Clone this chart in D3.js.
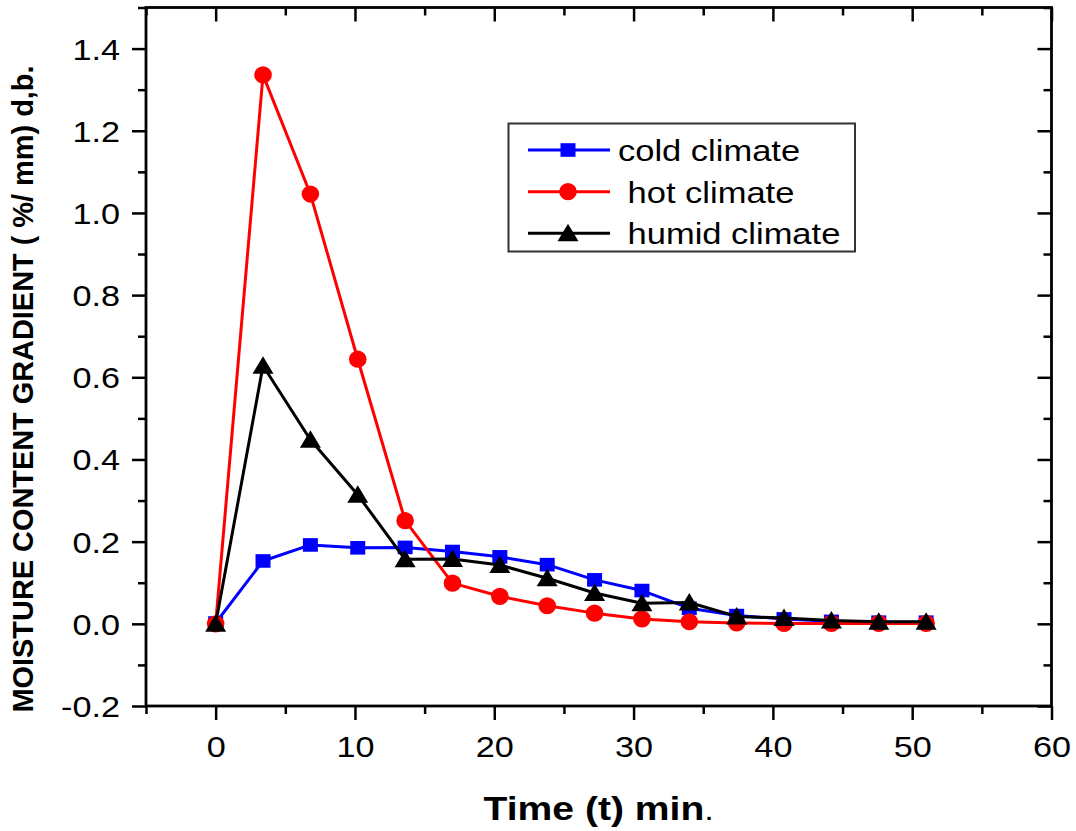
<!DOCTYPE html>
<html>
<head>
<meta charset="utf-8">
<script src="https://cdn.jsdelivr.net/npm/d3@7"></script>
<style>
  html, body { margin: 0; padding: 0; background: #ffffff; }
  svg { display: block; }
  text { font-family: Arial, "Liberation Sans", sans-serif; fill: #000; }
</style>
</head>
<body>
<svg id="chart" width="1076" height="831"></svg>
<script>
// ---- data ----
const time = [0, 3.4, 6.8, 10.2, 13.6, 17, 20.4, 23.8, 27.2, 30.6, 34, 37.4, 40.8, 44.2, 47.6, 51];
const cold = [0.002, 0.153, 0.192, 0.185, 0.186, 0.176, 0.163, 0.144, 0.107, 0.081, 0.038, 0.02, 0.012, 0.006, 0.004, 0.004];
const hot = [0, 1.336, 1.046, 0.644, 0.251, 0.099, 0.067, 0.044, 0.026, 0.012, 0.005, 0.002, 0.001, 0.001, 0.001, 0.001];
const humid = [0, 0.628, 0.448, 0.314, 0.157, 0.158, 0.143, 0.111, 0.075, 0.05, 0.052, 0.018, 0.014, 0.008, 0.005, 0.005];
const seriesNames = ["cold climate", " hot climate", " humid climate"];
const xMajorTicks = [0, 10, 20, 30, 40, 50, 60];
const xMinorTicks = [-5, 5, 15, 25, 35, 45, 55];
const yMajorTicks = [-0.2, 0, 0.2, 0.4, 0.6, 0.8, 1.0, 1.2, 1.4];
const yMinorTicks = [-0.1, 0.1, 0.3, 0.5, 0.7, 0.9, 1.1, 1.3, 1.5];
const xTitle = "Time (t) min";
const yTitle = "MOISTURE CONTENT GRADIENT ( %/ mm) d,b.";

// ---- layout ----
const L = 146, R = 1051.5, T = 7.5, B = 706;
const sx = 1.18;
const svg = d3.select("#chart");
svg.append("rect").attr("width", 1076).attr("height", 831).attr("fill", "#ffffff");

const x = d3.scaleLinear().domain([-5, 60]).range([L, R]);
const y = d3.scaleLinear().domain([-0.2, 1.5]).range([B, T]);

const axisStyle = g => {
  g.select(".domain").remove();
  g.selectAll(".tick line").attr("stroke", "#000").attr("stroke-width", 2.5);
};

// bottom axis
const gB = svg.append("g").attr("transform", `translate(0,${B})`);
gB.call(d3.axisBottom(x).tickValues(xMajorTicks).tickSize(14).tickFormat(d => d)).call(axisStyle);
gB.selectAll(".tick text").attr("font-size", 29).attr("y", 51).attr("dy", 0)
  .attr("transform", `scale(${sx},1)`).attr("font-family", "Arial, 'Liberation Sans', sans-serif");
svg.append("g").attr("transform", `translate(0,${B})`)
  .call(d3.axisBottom(x).tickValues(xMinorTicks).tickSize(8).tickFormat("")).call(axisStyle);

// top axis (inward ticks)
svg.append("g").attr("transform", `translate(0,${T})`)
  .call(d3.axisTop(x).tickValues(xMajorTicks).tickSize(-14).tickFormat("")).call(axisStyle);
svg.append("g").attr("transform", `translate(0,${T})`)
  .call(d3.axisTop(x).tickValues(xMinorTicks).tickSize(-8).tickFormat("")).call(axisStyle);

// left axis
const gL = svg.append("g").attr("transform", `translate(${L},0)`);
gL.call(d3.axisLeft(y).tickValues(yMajorTicks).tickSize(14).tickFormat(d => d.toFixed(1))).call(axisStyle);
gL.selectAll(".tick text").attr("font-size", 29).attr("x", -26 / sx).attr("dy", "0.36em")
  .attr("transform", `scale(${sx},1)`).attr("font-family", "Arial, 'Liberation Sans', sans-serif");
svg.append("g").attr("transform", `translate(${L},0)`)
  .call(d3.axisLeft(y).tickValues(yMinorTicks).tickSize(8).tickFormat("")).call(axisStyle);

// right axis (inward ticks)
svg.append("g").attr("transform", `translate(${R},0)`)
  .call(d3.axisRight(y).tickValues(yMajorTicks).tickSize(-14).tickFormat("")).call(axisStyle);
svg.append("g").attr("transform", `translate(${R},0)`)
  .call(d3.axisRight(y).tickValues(yMinorTicks).tickSize(-8).tickFormat("")).call(axisStyle);

// frame
svg.append("rect").attr("x", L).attr("y", T).attr("width", R - L).attr("height", B - T)
  .attr("fill", "none").attr("stroke", "#000").attr("stroke-width", 2.8);

// ---- series ----
const shapes = {
  square: (g, c) => g.append("rect").attr("x", -7.5).attr("y", -6.8).attr("width", 15).attr("height", 13.6).attr("fill", c),
  circle: (g, c) => g.append("ellipse").attr("rx", 8.8).attr("ry", 8.6).attr("fill", c),
  triangle: (g, c) => g.append("path").attr("d", "M0,-9.5 L10.5,8 L-10.5,8 Z").attr("fill", c)
};
const series = [
  { name: seriesNames[0], values: cold, color: "#0000ff", shape: "square" },
  { name: seriesNames[1], values: hot, color: "#ff0000", shape: "circle" },
  { name: seriesNames[2], values: humid, color: "#000000", shape: "triangle" }
];
const line = d3.line().x(d => x(d[0])).y(d => y(d[1]));
series.forEach(s => {
  const pts = time.map((t, i) => [t, s.values[i]]);
  svg.append("path").datum(pts).attr("d", line).attr("fill", "none")
    .attr("stroke", s.color).attr("stroke-width", 3).attr("stroke-linejoin", "round");
  pts.forEach(p => {
    const g = svg.append("g").attr("transform", `translate(${x(p[0])},${y(p[1])})`);
    shapes[s.shape](g, s.color);
  });
});

// ---- legend ----
const lg = svg.append("g");
lg.append("rect").attr("x", 508.5).attr("y", 123.5).attr("width", 346.5).attr("height", 128)
  .attr("fill", "#ffffff").attr("stroke", "#333").attr("stroke-width", 2);
const rowY = [150, 191.7, 233.3];
series.forEach((s, i) => {
  const ry = rowY[i];
  lg.append("line").attr("x1", 528).attr("x2", 610).attr("y1", ry).attr("y2", ry)
    .attr("stroke", s.color).attr("stroke-width", 3);
  const g = lg.append("g").attr("transform", `translate(568,${ry})`);
  shapes[s.shape](g, s.color);
  lg.append("text").attr("transform", `translate(618,${ry + 11}) scale(1.15,1)`)
    .attr("font-size", 30).style("white-space", "pre").text(s.name);
});

// ---- titles ----
const xt = svg.append("text").attr("transform", `translate(${(L + R) / 2},820) scale(1.15,1)`)
  .attr("text-anchor", "middle").attr("font-size", 34);
xt.append("tspan").attr("font-weight", "bold").text(xTitle);
xt.append("tspan").attr("font-weight", "normal").attr("font-size", 30).text(".");

svg.append("text").attr("transform", "translate(33,389) rotate(-90)")
  .attr("text-anchor", "middle").attr("font-size", 29).attr("font-weight", "bold")
  .attr("textLength", 647).attr("lengthAdjust", "spacingAndGlyphs").text(yTitle);
</script>
</body>
</html>
